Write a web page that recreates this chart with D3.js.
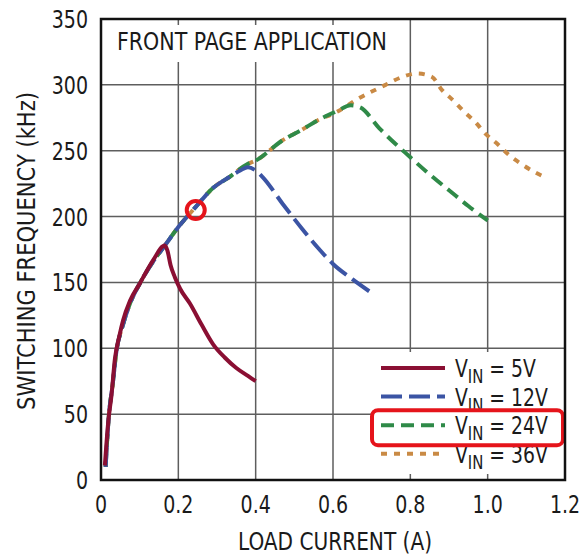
<!DOCTYPE html>
<html>
<head>
<meta charset="utf-8">
<script src="https://cdn.jsdelivr.net/npm/d3@7"></script>
<style>
  html, body { margin: 0; padding: 0; background: #fff; }
  svg text { font-family: "Liberation Sans Narrow", "DejaVu Sans Condensed", "Liberation Sans", sans-serif; fill: #1a1a1a; }
</style>
</head>
<body>
<svg id="chart" width="582" height="555"></svg>
<script>
// Load current (A) and switching frequency (kHz) for each input voltage
const current5V  = [0.010, 0.019, 0.027, 0.036, 0.048, 0.057, 0.075, 0.100, 0.135, 0.165, 0.172, 0.180, 0.191, 0.205, 0.230, 0.260, 0.290, 0.320, 0.350, 0.380, 0.400];
const freq5V     = [11, 45, 64, 92, 110, 121, 136, 149, 167, 178, 174, 163, 154, 145, 134, 118, 103, 93, 85, 79, 75];

const current12V = [0.012, 0.020, 0.030, 0.040, 0.055, 0.075, 0.100, 0.135, 0.165, 0.200, 0.244, 0.291, 0.332, 0.360, 0.380, 0.400, 0.418, 0.470, 0.522, 0.565, 0.600, 0.650, 0.700];
const freq12V    = [10, 48, 72, 98, 116, 134, 149, 166, 178, 192, 207, 222, 230, 235, 237.5, 235, 230, 209.6, 190, 175, 164, 152.5, 142];

const current24V = [0.012, 0.020, 0.030, 0.040, 0.055, 0.075, 0.100, 0.135, 0.165, 0.200, 0.244, 0.291, 0.332, 0.380, 0.400, 0.470, 0.520, 0.560, 0.610, 0.646, 0.670, 0.720, 0.800, 0.850, 0.900, 0.950, 1.000];
const freq24V    = [10, 48, 72, 98, 116, 134, 149, 166, 178, 192, 207, 222, 230, 240, 242.5, 258, 266, 273, 280, 284.5, 283, 267, 245, 232, 220, 208, 197];

const current36V = [0.012, 0.020, 0.030, 0.040, 0.055, 0.075, 0.100, 0.135, 0.165, 0.200, 0.244, 0.291, 0.332, 0.380, 0.400, 0.470, 0.520, 0.560, 0.607, 0.668, 0.736, 0.779, 0.818, 0.856, 0.882, 0.908, 0.938, 0.968, 0.994, 1.028, 1.054, 1.088, 1.123, 1.149];
const freq36V    = [10, 48, 72, 98, 116, 134, 149, 166, 178, 192, 207, 222, 230, 240, 242.5, 258, 266, 273, 279, 290, 300, 306, 308.6, 306, 296, 289, 280, 271.7, 263, 254.4, 247, 239.7, 233.5, 229.8];

const seriesNames = ["5V", "12V", "24V", "36V"];
const xTicks = [0, 0.2, 0.4, 0.6, 0.8, 1.0, 1.2];
const xTickLabels = ["0", "0.2", "0.4", "0.6", "0.8", "1.0", "1.2"];
const yTicks = [0, 50, 100, 150, 200, 250, 300, 350];
const yTickLabels = ["0", "50", "100", "150", "200", "250", "300", "350"];

// Highlighted operating point and highlighted legend entry
const markerCurrent = [0.245];
const markerFreq = [205];
const highlightedSeries = "24V";

const titleText = "FRONT PAGE APPLICATION";
const xTitle = "LOAD CURRENT (A)";
const yTitle = "SWITCHING FREQUENCY (kHz)";

// ---- styles ----
const styles = {
  "5V":  { color: "#8a0f33", dash: null },
  "12V": { color: "#3b54a4", dash: "21,7" },
  "24V": { color: "#2f8a48", dash: "13,7" },
  "36V": { color: "#c98a45", dash: "6,7" }
};
const highlightRed = "#e5141b";

const series = [
  { name: "5V",  xs: current5V,  ys: freq5V },
  { name: "12V", xs: current12V, ys: freq12V },
  { name: "24V", xs: current24V, ys: freq24V },
  { name: "36V", xs: current36V, ys: freq36V }
].map(s => ({ name: s.name, points: s.xs.map((x, i) => ({ x, y: s.ys[i] })) }));

// Squeeze text horizontally to a condensed face width
function condense(sel, factor) {
  sel.each(function () {
    const w = this.getComputedTextLength();
    d3.select(this).attr("textLength", w * factor).attr("lengthAdjust", "spacingAndGlyphs");
  });
}

const svg = d3.select("#chart");
const plotLeft = 101, plotRight = 565, plotTop = 19, plotBottom = 480;

const x = d3.scaleLinear().domain([0, 1.2]).range([plotLeft, plotRight]);
const y = d3.scaleLinear().domain([0, 350]).range([plotBottom, plotTop]);

// Grid
const grid = svg.append("g");
grid.selectAll("line.v").data(xTicks).join("line")
  .attr("x1", d => x(d)).attr("x2", d => x(d))
  .attr("y1", y(0)).attr("y2", y(350))
  .attr("stroke", "#5e5e5e").attr("stroke-width", 1.5);
grid.selectAll("line.h").data(yTicks).join("line")
  .attr("y1", d => y(d)).attr("y2", d => y(d))
  .attr("x1", x(0)).attr("x2", x(1.2))
  .attr("stroke", "#5e5e5e").attr("stroke-width", 1.5);

// Title box (white backing over the grid)
svg.append("rect")
  .attr("x", x(0) + 3).attr("y", 25).attr("width", 297).attr("height", 37)
  .attr("fill", "#fff");
svg.append("text")
  .attr("x", 117).attr("y", 50)
  .attr("font-size", 24)
  .attr("textLength", 270).attr("lengthAdjust", "spacingAndGlyphs")
  .text(titleText);

// Curves
const line = d3.line().x(d => x(d.x)).y(d => y(d.y)).curve(d3.curveMonotoneX);
const drawOrder = ["36V", "24V", "12V", "5V"];
svg.append("g").selectAll("path")
  .data(drawOrder.map(n => series.find(s => s.name === n)))
  .join("path")
  .attr("d", d => line(d.points))
  .attr("fill", "none")
  .attr("stroke", d => styles[d.name].color)
  .attr("stroke-width", 4)
  .attr("stroke-dasharray", d => styles[d.name].dash)
  .attr("stroke-linecap", "butt")
  .attr("stroke-linejoin", "round");

// Legend
const legend = svg.append("g");
legend.append("rect")
  .attr("x", 372).attr("y", 352).attr("width", 192).attr("height", 122)
  .attr("fill", "#fff");
const rowY = i => 368 + i * 28.6;
const rows = legend.selectAll("g.row").data(seriesNames).join("g")
  .attr("transform", (d, i) => `translate(0,${rowY(i)})`);
rows.append("line")
  .attr("x1", 381).attr("x2", 445).attr("y1", 0).attr("y2", 0)
  .attr("stroke", d => styles[d].color)
  .attr("stroke-width", 4)
  .attr("stroke-dasharray", d => styles[d].dash);
const lt = rows.append("text")
  .attr("x", 455).attr("y", 9)
  .attr("font-size", 24);
lt.append("tspan").text("V");
lt.append("tspan").attr("font-size", 19).attr("dy", 6).text("IN");
lt.append("tspan").attr("dy", -6).text(d => " = " + d);
condense(lt, 0.87);

// Highlight box around one legend entry
const hi = seriesNames.indexOf(highlightedSeries);
svg.append("rect")
  .attr("x", 372).attr("y", rowY(hi) - 15).attr("width", 191).attr("height", 35)
  .attr("rx", 6)
  .attr("fill", "none").attr("stroke", highlightRed).attr("stroke-width", 4);

// Highlighted operating point
svg.append("g").selectAll("circle")
  .data(markerCurrent.map((c, i) => ({ x: c, y: markerFreq[i] })))
  .join("circle")
  .attr("cx", d => x(d.x)).attr("cy", d => y(d.y)).attr("r", 9)
  .attr("fill", "none").attr("stroke", highlightRed).attr("stroke-width", 4);

// Frame
svg.append("rect")
  .attr("x", plotLeft).attr("y", plotTop).attr("width", plotRight - plotLeft).attr("height", plotBottom - plotTop)
  .attr("fill", "none").attr("stroke", "#111").attr("stroke-width", 2.5);

// Tick labels
const xLab = svg.append("g").selectAll("text").data(xTicks).join("text")
  .attr("x", d => x(d)).attr("y", 513)
  .attr("text-anchor", "middle").attr("font-size", 24)
  .text((d, i) => xTickLabels[i]);
condense(xLab, 0.88);
const yLab = svg.append("g").selectAll("text").data(yTicks).join("text")
  .attr("x", 88).attr("y", d => y(d) + 9)
  .attr("text-anchor", "end").attr("font-size", 24)
  .text((d, i) => yTickLabels[i]);
condense(yLab, 0.88);

// Axis titles
svg.append("text")
  .attr("x", 335).attr("y", 550).attr("text-anchor", "middle")
  .attr("font-size", 24)
  .attr("textLength", 194).attr("lengthAdjust", "spacingAndGlyphs")
  .text(xTitle);
svg.append("text")
  .attr("transform", "translate(35,251) rotate(-90)")
  .attr("text-anchor", "middle").attr("font-size", 24)
  .attr("textLength", 318).attr("lengthAdjust", "spacingAndGlyphs")
  .text(yTitle);
</script>
</body>
</html>
